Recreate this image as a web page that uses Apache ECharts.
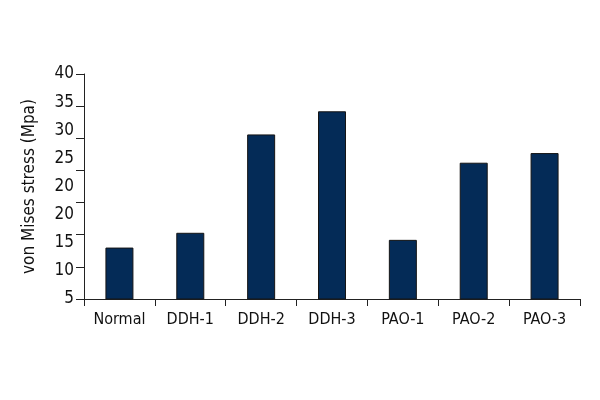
<!DOCTYPE html>
<html>
<head>
<meta charset="utf-8">
<script src="https://cdn.jsdelivr.net/npm/echarts@6/dist/echarts.min.js"></script>
<style>
  html, body { margin: 0; padding: 0; background: #fff; }
  #main { width: 600px; height: 400px; }
</style>
</head>
<body>
<div id="main"></div>
<script>
// data
const categories = ['Normal', 'DDH-1', 'DDH-2', 'DDH-3', 'PAO-1', 'PAO-2', 'PAO-3'];
const stress = [13.0, 15.3, 30.6, 34.2, 14.2, 26.2, 27.7];
// tick labels as printed (bottom to top, the original repeats "20")
const yLabels = ['5', '10', '15', '20', '20', '25', '30', '35', '40'];

const yMin = 5, yMax = 40;
const labelStep = (yMax - yMin) / (yLabels.length - 1);
const labelValues = yLabels.map((_, i) => yMin + i * labelStep);

const font = '"Liberation Sans Narrow", "DejaVu Sans Condensed", "Liberation Sans", sans-serif';

var chart = echarts.init(document.getElementById('main'));
chart.setOption({
    animation: false,
    grid: { left: 84, right: 20, top: 74, bottom: 101, containLabel: false },
    xAxis: {
        type: 'category',
        data: categories,
        axisLine: { lineStyle: { color: '#222', width: 1 } },
        axisTick: { show: true, length: 7, lineStyle: { color: '#222' } },
        axisLabel: { color: '#111', fontSize: 16, fontFamily: font, margin: 13 }
    },
    yAxis: {
        type: 'value',
        min: yMin,
        max: yMax,
        interval: 5,
        name: 'von Mises stress (Mpa)',
        nameLocation: 'middle',
        nameRotate: 90,
        nameGap: 46,
        nameTextStyle: { color: '#111', fontSize: 17, fontFamily: font },
        splitLine: { show: false },
        axisLine: { show: true, lineStyle: { color: '#222', width: 1 } },
        axisTick: { show: true, length: 8, lineStyle: { color: '#222' } },
        axisLabel: {
            customValues: labelValues,
            color: '#111',
            fontSize: 17,
            fontFamily: font,
            margin: 10,
            formatter: function (v) {
                return yLabels[Math.round((v - yMin) / labelStep)];
            }
        }
    },
    series: [{
        type: 'bar',
        data: stress,
        barWidth: 28,
        itemStyle: { color: '#042b57', borderColor: '#151515', borderWidth: 1 }
    }]
});
</script>
</body>
</html>
